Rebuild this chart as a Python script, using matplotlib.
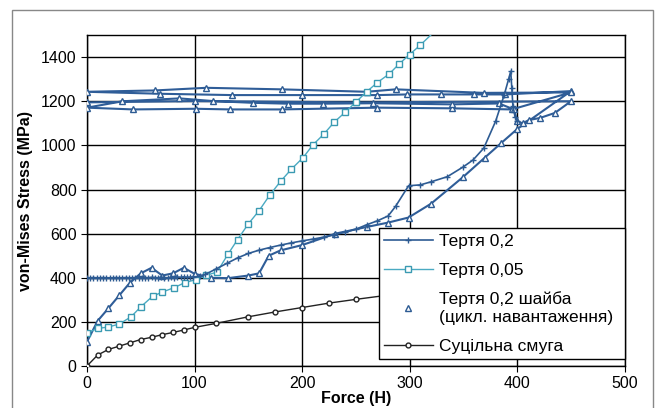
import matplotlib.pyplot as plt
from matplotlib.patches import Rectangle

plt.rcParams['font.family'] = ['Liberation Sans', 'DejaVu Sans']

# Тертя 0,2
s1_x = [0, 3, 6, 9, 12, 15, 18, 21, 24, 27, 30, 33, 36, 39, 42, 45, 48, 51, 54, 57,
        60, 63, 66, 69, 72, 75, 78, 81, 84, 87, 90, 93, 96, 99,
        105, 110, 120, 130, 140, 150, 160, 170, 180, 190, 200, 210, 220, 230, 240,
        250, 260, 270, 280, 287, 299, 310, 320, 335, 350, 359, 369, 380, 388, 392,
        394, 395, 396, 398, 400]
s1_y = [400, 400, 401, 400, 400, 401, 400, 400, 400, 401, 400, 400, 401, 400, 400, 401,
        400, 400, 401, 400, 402, 401, 400, 402, 401, 400, 402, 401, 403, 402, 404, 402,
        403, 404,
        406, 415, 440, 465, 490, 510, 525, 537, 548, 558, 567, 575, 584, 595, 606,
        620, 640, 658, 680, 724, 817, 821, 835, 858, 903, 934, 988, 1110, 1230, 1300,
        1336, 1260, 1180, 1130, 1110]

# Тертя 0,05
s2_x = [0, 10, 20, 30, 41, 50, 61, 70, 81, 91, 101, 111, 121, 131, 140, 150, 160, 170,
        180, 190, 201, 210, 220, 230, 240, 250, 260, 270, 281, 290, 300, 310, 325]
s2_y = [150, 170, 177, 190, 223, 268, 316, 335, 355, 378, 391, 411, 426, 506, 573, 644,
        704, 775, 837, 892, 945, 1002, 1050, 1106, 1150, 1196, 1243, 1285, 1324, 1368,
        1412, 1455, 1525]

# Тертя 0,2 шайба (цикл. навантаження)
s3_x = [0, 10, 20, 30, 40, 50, 60, 70, 80, 90, 100, 115, 131, 150, 160, 169, 180, 200,
        231, 260, 280, 299, 320, 350, 370, 385, 400, 450,
        389, 360, 329, 298, 270, 200, 135, 68, 0,
        63, 111, 181, 260, 287, 369, 450,
        395, 339, 270, 181, 133, 101, 43, 0,
        33, 86, 117, 154, 187, 219, 266, 339, 383,
        397, 400, 405, 411, 421, 435, 450,
        250, 100, 0]
s3_y = [110, 205, 262, 320, 378, 420, 445, 410, 420, 445, 418, 400, 398, 410, 420, 500,
        524, 548, 600, 630, 650, 673, 736, 858, 945, 1010, 1074, 1246,
        1231, 1231, 1231, 1231, 1228, 1228, 1228, 1234, 1243,
        1249, 1261, 1254, 1243, 1254, 1238, 1240,
        1163, 1168, 1171, 1163, 1163, 1166, 1163, 1171,
        1200, 1213, 1201, 1193, 1189, 1189, 1191, 1186, 1190,
        1163, 1110, 1100, 1115, 1124, 1147, 1200,
        1195, 1201, 1195]

# Суцільна смуга
s4_x = [0, 10, 20, 30, 40, 50, 60, 70, 80, 90, 100, 120, 150, 175, 200, 225, 250,
        275, 300, 350, 400, 450, 500]
s4_y = [0, 50, 75, 90, 105, 120, 130, 142, 152, 163, 175, 193, 223, 245, 265, 285, 302,
        318, 335, 365, 395, 428, 458]

fig = plt.figure(figsize=(6.59, 4.08), dpi=100)
ax = fig.add_axes([0.132, 0.103, 0.816, 0.811])

ax.plot(s4_x, s4_y, color='#222222', lw=1, marker='o', ms=3.5, mfc='white',
        mec='#222222', label='Суцільна смуга', zorder=3)
ax.plot(s3_x, s3_y, color='#2F5D98', lw=1.5, marker='^', ms=5, mfc='white',
        mec='#2D5B93', label='Тертя 0,2 шайба\n(цикл. навантаження)', zorder=4)
ax.plot(s2_x, s2_y, color='#4AAAC2', lw=1, marker='s', ms=5, mfc='white',
        mec='#3A9AB2', label='Тертя 0,05', zorder=5)
ax.plot(s1_x, s1_y, color='#2D5B93', lw=1.2, marker='+', ms=4,
        label='Тертя 0,2', zorder=6)

ax.set_xlim(0, 500)
ax.set_ylim(0, 1500)
ax.set_xticks([0, 100, 200, 300, 400, 500])
ax.set_yticks([0, 200, 400, 600, 800, 1000, 1200, 1400])
ax.grid(True, color='black', lw=1)
ax.set_axisbelow(True)
for sp in ax.spines.values():
    sp.set_color('black')
    sp.set_linewidth(1)
ax.tick_params(labelsize=11.5, length=4, color='black', direction='out')

ax.set_xlabel('Force (H)', fontsize=11.5, fontweight='bold', labelpad=0)
ax.set_ylabel('von-Mises Stress (MPa)', fontsize=11.5, fontweight='bold', labelpad=6)

# legend order as in the picture
h, l = ax.get_legend_handles_labels()
order = [3, 2, 1, 0]
leg = ax.legend([h[i] for i in order], [l[i] for i in order],
                loc='lower left', bbox_to_anchor=(0.543, 0.021, 0.457, 0.396),
                mode='expand', fontsize=12.5, frameon=True, fancybox=False,
                edgecolor='black', framealpha=1, handlelength=2.8,
                handletextpad=0.35, labelspacing=0.8, borderaxespad=0,
                borderpad=0.3)
leg.get_frame().set_linewidth(1)
leg.set_zorder(10)
# the cyclic series has no line in the legend
leg.get_lines()[2].set_linestyle('none')

fig.patches.append(Rectangle((12 / 659, -0.01), (653 - 12) / 659, (398 + 4) / 408,
                             transform=fig.transFigure, fill=False,
                             edgecolor='#888888', lw=1))

fig.savefig('out.png', dpi=100)
